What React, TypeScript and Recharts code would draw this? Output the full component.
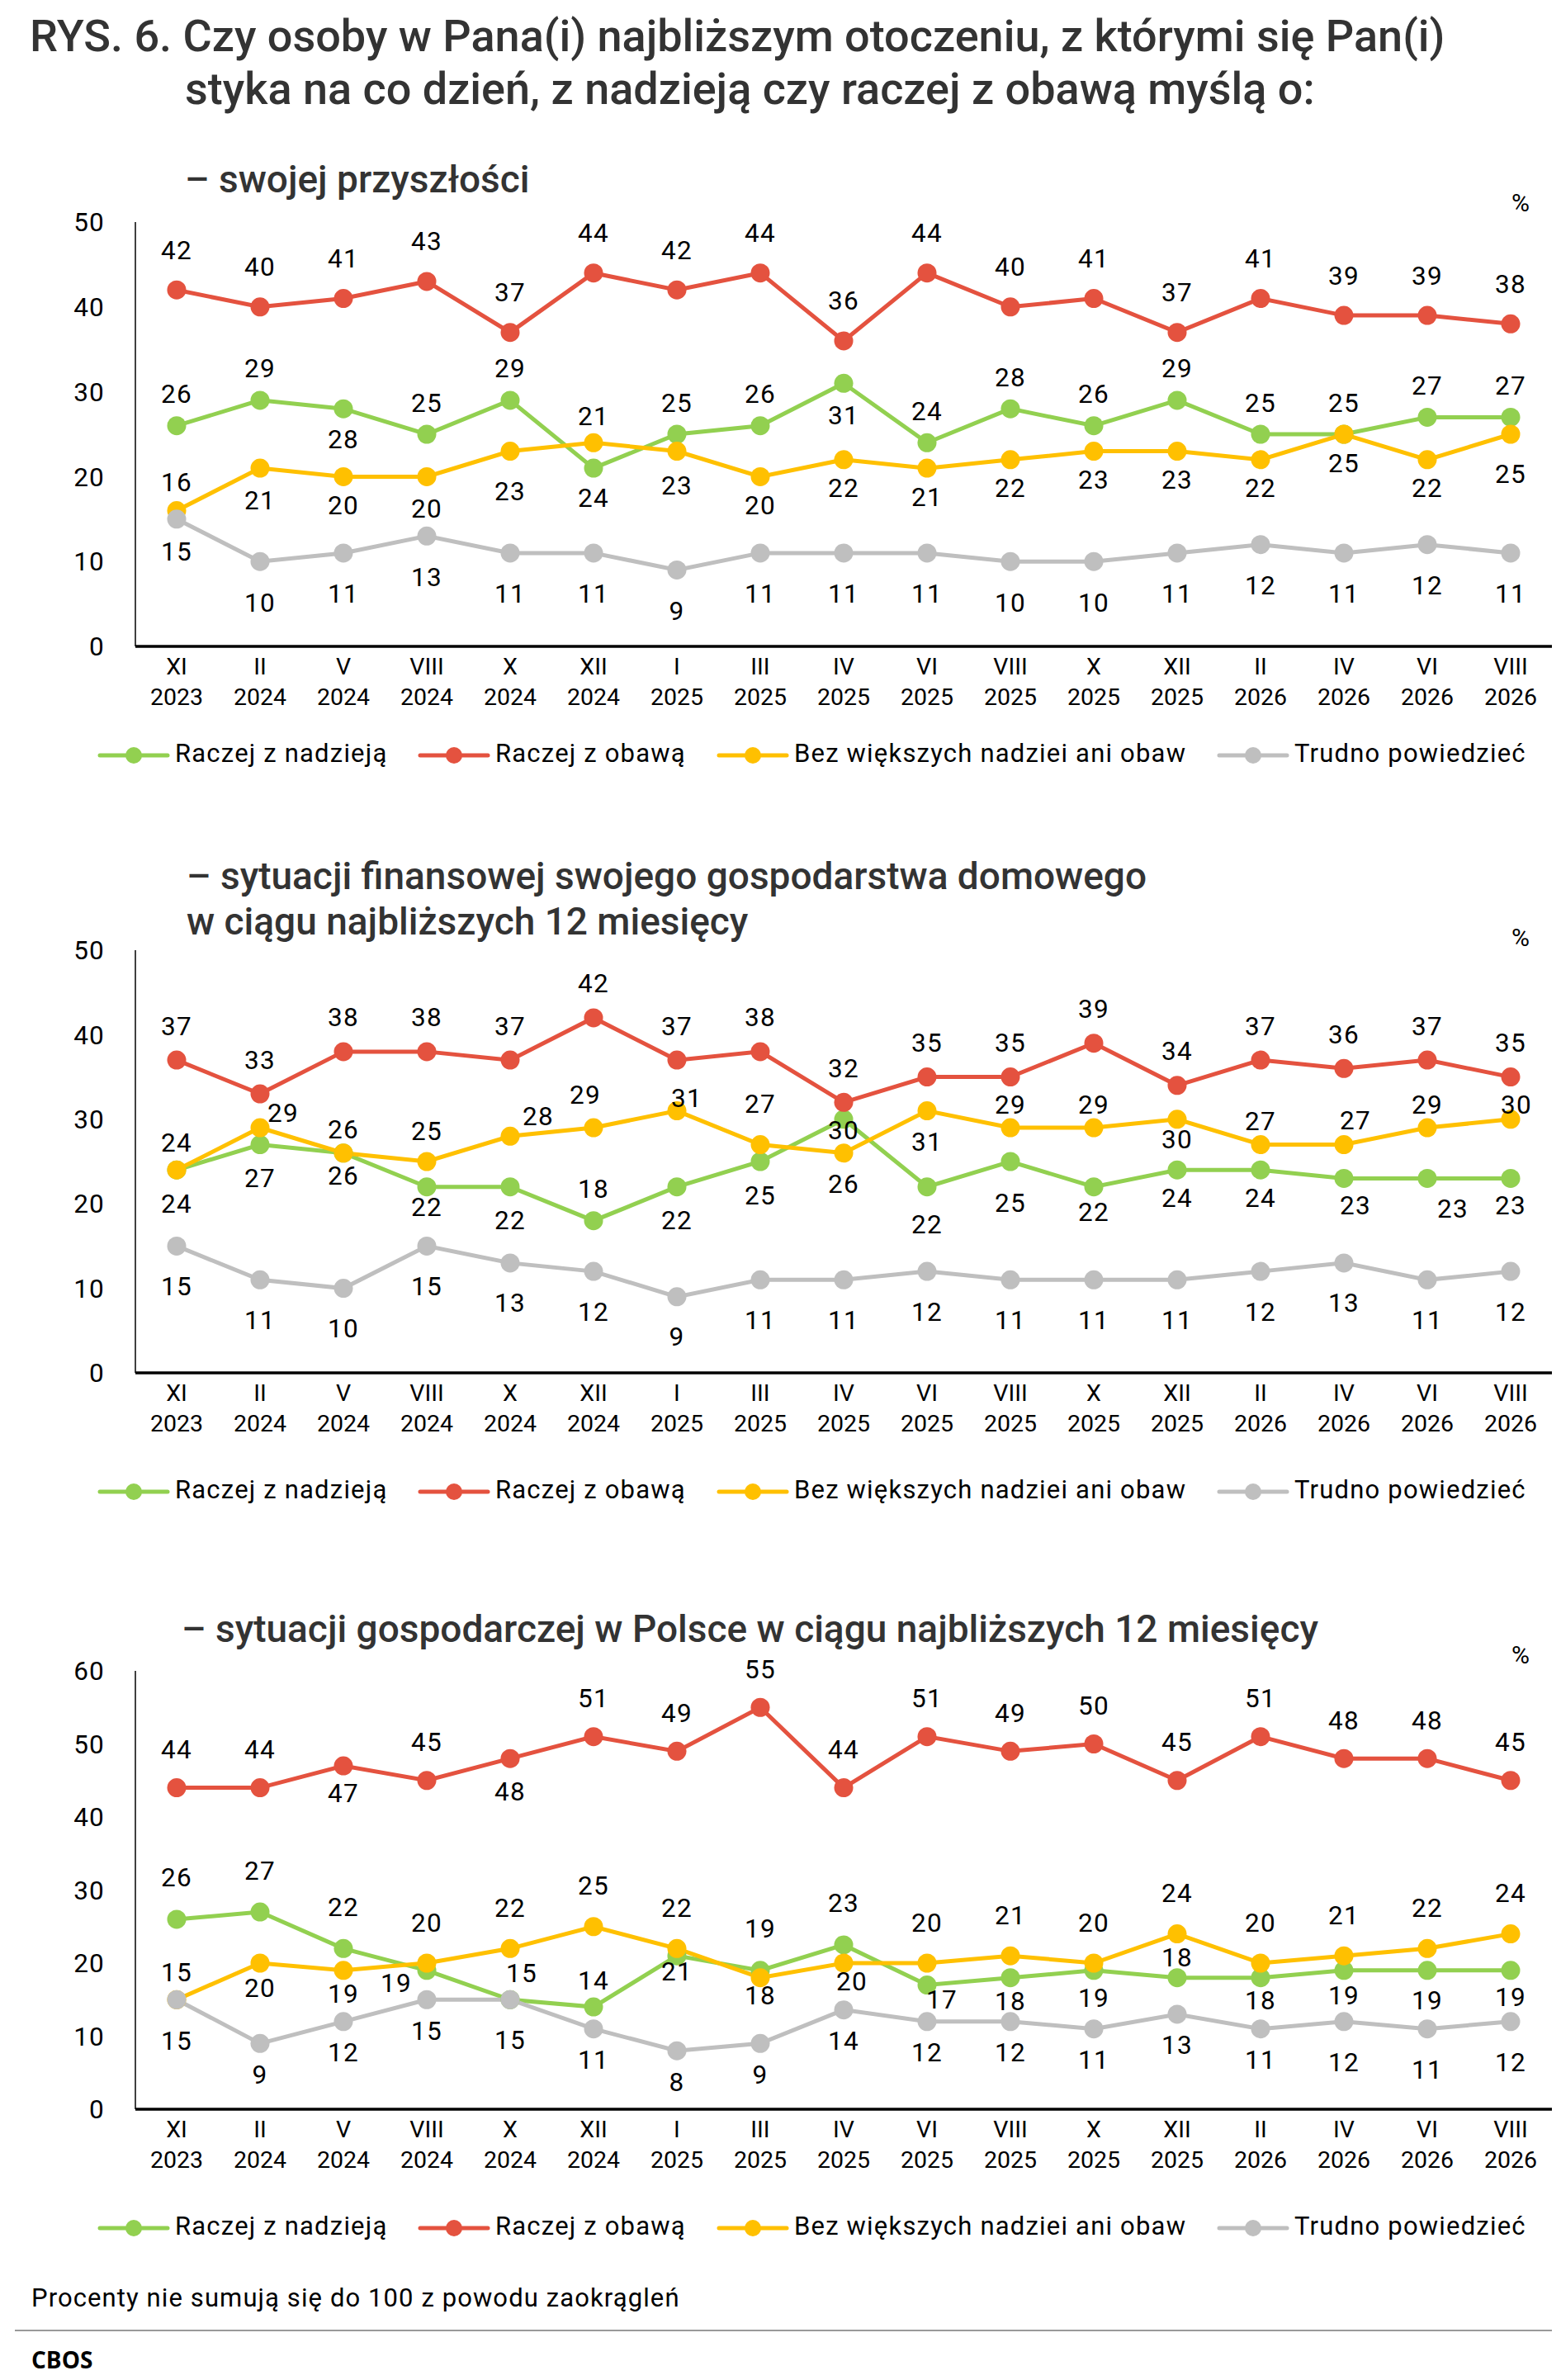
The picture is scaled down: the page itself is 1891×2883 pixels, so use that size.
import React from "react";
import { LineChart, Line, XAxis, YAxis, LabelList } from "recharts";

// ─── Data ─────────────────────────────────────────────────────────────────────
const CATEGORIES = [
  "XI 2023", "II 2024", "V 2024", "VIII 2024", "X 2024", "XII 2024",
  "I 2025", "III 2025", "IV 2025", "VI 2025", "VIII 2025", "X 2025",
  "XII 2025", "II 2026", "IV 2026", "VI 2026", "VIII 2026",
];

// – swojej przyszłości
const FUTURE_HOPE = [26, 29, 28, 25, 29, 21, 25, 26, 31, 24, 28, 26, 29, 25, 25, 27, 27];
const FUTURE_FEAR = [42, 40, 41, 43, 37, 44, 42, 44, 36, 44, 40, 41, 37, 41, 39, 39, 38];
const FUTURE_NEUTRAL = [16, 21, 20, 20, 23, 24, 23, 20, 22, 21, 22, 23, 23, 22, 25, 22, 25];
const FUTURE_HARD = [15, 10, 11, 13, 11, 11, 9, 11, 11, 11, 10, 10, 11, 12, 11, 12, 11];

// – sytuacji finansowej gospodarstwa domowego
const HOUSE_HOPE = [24, 27, 26, 22, 22, 18, 22, 25, 30, 22, 25, 22, 24, 24, 23, 23, 23];
const HOUSE_FEAR = [37, 33, 38, 38, 37, 42, 37, 38, 32, 35, 35, 39, 34, 37, 36, 37, 35];
const HOUSE_NEUTRAL = [24, 29, 26, 25, 28, 29, 31, 27, 26, 31, 29, 29, 30, 27, 27, 29, 30];
const HOUSE_HARD = [15, 11, 10, 15, 13, 12, 9, 11, 11, 12, 11, 11, 11, 12, 13, 11, 12];

// – sytuacji gospodarczej w Polsce
const ECON_HOPE = [26, 27, 22, 19, 15, 14, 21, 19, 22.5, 17, 18, 19, 18, 18, 19, 19, 19];
const ECON_FEAR = [44, 44, 47, 45, 48, 51, 49, 55, 44, 51, 49, 50, 45, 51, 48, 48, 45];
const ECON_NEUTRAL = [15, 20, 19, 20, 22, 25, 22, 18, 20, 20, 21, 20, 24, 20, 21, 22, 24];
const ECON_HARD = [15, 9, 12, 15, 15, 11, 8, 9, 13.6, 12, 12, 11, 13, 11, 12, 11, 12];

const TICKS_50 = [0, 10, 20, 30, 40, 50];
const TICKS_60 = [0, 10, 20, 30, 40, 50, 60];

// ─── Series & label placement ─────────────────────────────────────────────────
const SERIES = [
  { key: "hope", name: "Raczej z nadzieją", color: "#92D050" },
  { key: "fear", name: "Raczej z obawą", color: "#E4523F" },
  { key: "neutral", name: "Bez większych nadziei ani obaw", color: "#FFC000" },
  { key: "hard", name: "Trudno powiedzieć", color: "#BFBFBF" },
];

type Side = "a" | "b";
type Rule = { side: Side; d: number; ex?: Record<number, [Side, number, number?]> };

const FONT = "Roboto, 'Noto Sans', sans-serif";

function makeLabel(rule: Rule) {
  return (props: any) => {
    const vb = props.viewBox || {};
    const px = typeof vb.x === "number" ? vb.x + (vb.width || 0) / 2 : props.x;
    const py = typeof vb.y === "number" ? vb.y + (vb.height || 0) / 2 : props.y;
    const e = rule.ex?.[props.index];
    const side = e ? e[0] : rule.side;
    const d = e ? e[1] : rule.d;
    const dx = e?.[2] ?? 0;
    return (
      <text
        x={px + dx}
        y={py + (side === "a" ? -d : d)}
        textAnchor="middle"
        dominantBaseline="central"
        fontSize={31.5}
        letterSpacing={1.2}
        fontFamily={FONT}
        fill="#000"
      >
        {Math.round(Number(props.value))}
      </text>
    );
  };
}

function XTick({ x, y, payload }: any) {
  const [m, yr] = String(payload.value).split(" ");
  return (
    <g>
      <text x={x} y={y + 34} textAnchor="middle" fontSize={28.5} fontFamily={FONT} fill="#000">
        {m}
      </text>
      <text x={x} y={y + 71} textAnchor="middle" fontSize={28.5} fontFamily={FONT} fill="#000">
        {yr}
      </text>
    </g>
  );
}

interface PanelProps {
  top: number;
  bottom: number;
  ticks: number[];
  values: Record<string, number[]>;
  rules: Record<string, Rule>;
}

function Panel({ top, bottom, ticks, values, rules }: PanelProps) {
  const data = CATEGORIES.map((cat, i) => ({
    cat,
    hope: values.hope[i],
    fear: values.fear[i],
    neutral: values.neutral[i],
    hard: values.hard[i],
  }));
  const mt = 20;
  const axisH = 100;
  return (
    <div style={{ position: "absolute", left: 0, top: top - mt }}>
      <LineChart
        width={1891}
        height={mt + (bottom - top) + axisH}
        data={data}
        margin={{ top: mt, right: 11, bottom: 0, left: 0 }}
      >
        <XAxis
          dataKey="cat"
          interval={0}
          padding={{ left: 50, right: 50 }}
          height={axisH}
          tickLine={false}
          tickSize={0}
          tickMargin={0}
          axisLine={{ stroke: "#000", strokeWidth: 3.5 }}
          tick={<XTick />}
        />
        <YAxis
          domain={[0, ticks[ticks.length - 1]]}
          ticks={ticks}
          interval={0}
          width={164}
          tickLine={false}
          tickSize={0}
          tickMargin={37}
          axisLine={{ stroke: "#000", strokeWidth: 1.5 }}
          tick={{ fontSize: 31.5, letterSpacing: 1.2, fill: "#000", fontFamily: FONT }}
        />
        {SERIES.map((s) => (
          <Line
            key={s.key}
            type="linear"
            dataKey={s.key}
            stroke={s.color}
            strokeWidth={5}
            dot={{ r: 11.5, fill: s.color, stroke: s.color, strokeWidth: 0 }}
            activeDot={false}
            isAnimationActive={false}
          >
            <LabelList dataKey={s.key} content={makeLabel(rules[s.key])} />
          </Line>
        ))}
      </LineChart>
    </div>
  );
}

function Legend({ baseline }: { baseline: number }) {
  const starts = [121, 509, 871, 1477];
  return (
    <g>
      {SERIES.map((s, i) => (
        <g key={s.key}>
          <line x1={starts[i]} x2={starts[i] + 82} y1={baseline - 8} y2={baseline - 8} stroke={s.color} strokeWidth={5} strokeLinecap="round" />
          <circle cx={starts[i] + 41} cy={baseline - 8} r={10} fill={s.color} />
          <text x={starts[i] + 91} y={baseline} fontSize={31} letterSpacing={1.2} fontFamily={FONT} fill="#000">
            {s.name}
          </text>
        </g>
      ))}
    </g>
  );
}

export default function App() {
  const head = { fontFamily: FONT, fontWeight: 500, fill: "#333" } as const;
  return (
    <div style={{ position: "absolute", left: 0, top: 0, width: 1891, height: 2883, background: "#fff" }}>
      <Panel
        top={269}
        bottom={783}
        ticks={TICKS_50}
        values={{ hope: FUTURE_HOPE, fear: FUTURE_FEAR, neutral: FUTURE_NEUTRAL, hard: FUTURE_HARD }}
        rules={{
          hope: { side: "a", d: 38, ex: { 2: ["b", 37], 5: ["a", 63], 8: ["b", 39] } },
          fear: { side: "a", d: 48 },
          neutral: { side: "b", d: 35, ex: { 0: ["a", 34], 1: ["b", 39], 3: ["b", 39], 4: ["b", 49], 5: ["b", 67], 6: ["b", 42], 16: ["b", 48] } },
          hard: { side: "b", d: 50, ex: { 0: ["b", 40] } },
        }}
      />
      <Panel
        top={1151}
        bottom={1663}
        ticks={TICKS_50}
        values={{ hope: HOUSE_HOPE, fear: HOUSE_FEAR, neutral: HOUSE_NEUTRAL, hard: HOUSE_HARD }}
        rules={{
          hope: {
            side: "b",
            d: 41,
            ex: { 2: ["b", 28], 3: ["b", 25], 5: ["a", 38], 8: ["b", 14], 9: ["b", 46], 10: ["b", 50], 11: ["b", 31], 12: ["b", 34], 13: ["b", 34], 14: ["b", 33, 14], 15: ["b", 37, 31], 16: ["b", 33] },
          },
          fear: { side: "a", d: 41 },
          neutral: {
            side: "a",
            d: 28,
            ex: { 0: ["a", 33], 1: ["a", 18, 28], 3: ["a", 37], 4: ["a", 24, 34], 5: ["a", 40, -10], 6: ["a", 15, 12], 7: ["a", 49], 8: ["b", 38], 9: ["b", 38], 12: ["b", 25], 14: ["a", 29, 14], 16: ["a", 17, 7] },
          },
          hard: { side: "b", d: 49 },
        }}
      />
      <Panel
        top={2024}
        bottom={2555}
        ticks={TICKS_60}
        values={{ hope: ECON_HOPE, fear: ECON_FEAR, neutral: ECON_NEUTRAL, hard: ECON_HARD }}
        rules={{
          hope: {
            side: "a",
            d: 50,
            ex: { 3: ["b", 16, -37], 4: ["a", 32, 14], 5: ["a", 32], 6: ["b", 19], 9: ["b", 18, 18], 10: ["b", 29], 11: ["b", 34], 12: ["a", 24], 13: ["b", 28], 14: ["b", 31], 15: ["b", 37], 16: ["b", 33] },
          },
          fear: { side: "a", d: 46, ex: { 2: ["b", 33], 4: ["b", 40] } },
          neutral: { side: "a", d: 49, ex: { 0: ["a", 33], 1: ["b", 30], 2: ["b", 29], 7: ["b", 22], 8: ["b", 22, 10] } },
          hard: { side: "b", d: 38, ex: { 0: ["b", 50], 4: ["b", 49], 14: ["b", 50], 15: ["b", 50], 16: ["b", 50] } },
        }}
      />

      <svg width={1891} height={2883} style={{ position: "absolute", left: 0, top: 0, pointerEvents: "none" }}>
        <text x={36} y={62} fontSize={54} {...head}>
          RYS. 6. Czy osoby w Pana(i) najbliższym otoczeniu, z którymi się Pan(i)
        </text>
        <text x={224} y={126} fontSize={54} {...head}>
          styka na co dzień, z nadzieją czy raczej z obawą myślą o:
        </text>

        <text x={224} y={233} fontSize={46} {...head}>– swojej przyszłości</text>
        <text x={1842} y={256} fontSize={30} fontFamily={FONT} textAnchor="middle">%</text>
        <Legend baseline={923} />

        <text x={226} y={1077} fontSize={46} {...head}>– sytuacji finansowej swojego gospodarstwa domowego</text>
        <text x={226} y={1132} fontSize={46} {...head}>w ciągu najbliższych 12 miesięcy</text>
        <text x={1842} y={1146} fontSize={30} fontFamily={FONT} textAnchor="middle">%</text>
        <Legend baseline={1815} />

        <text x={220} y={1989} fontSize={46} {...head}>– sytuacji gospodarczej w Polsce w ciągu najbliższych 12 miesięcy</text>
        <text x={1842} y={2015} fontSize={30} fontFamily={FONT} textAnchor="middle">%</text>
        <Legend baseline={2707} />

        <text x={38} y={2794} fontSize={31} letterSpacing={1.1} fontFamily={FONT} fill="#000">
          Procenty nie sumują się do 100 z powodu zaokrągleń
        </text>
        <line x1={18} x2={1880} y1={2823} y2={2823} stroke="#999" strokeWidth={2} />
        <text x={38} y={2869} fontSize={28} fontWeight={700} fontFamily="'Open Sans', sans-serif" fill="#000">
          CBOS
        </text>
      </svg>
    </div>
  );
}
